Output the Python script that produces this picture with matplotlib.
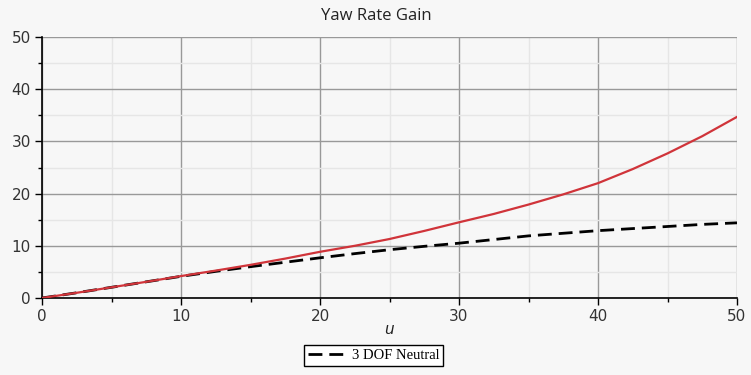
import matplotlib
matplotlib.use("Agg")
import matplotlib.pyplot as plt
from matplotlib.ticker import MultipleLocator

u = [0, 2.5, 5, 7.5, 10, 12.5, 15, 17.5, 20, 22.5, 25, 27.5, 30, 32.5, 35, 37.5, 40, 42.5, 45, 47.5, 50]
gain_red = [0, 1.0, 2.05, 3.1, 4.2, 5.25, 6.35, 7.55, 8.85, 10.0, 11.3, 12.85, 14.5, 16.1, 17.9, 19.85, 22.0, 24.7, 27.7, 31.0, 34.7]
gain_3dof = [0, 1.0, 2.05, 3.1, 4.15, 5.1, 6.0, 6.85, 7.7, 8.5, 9.25, 9.9, 10.5, 11.2, 11.9, 12.4, 12.9, 13.3, 13.7, 14.1, 14.4]
title = "Yaw Rate Gain"
xlabel = "u"
legend_label = "3 DOF Neutral"

bg = "#f7f7f7"
fig = plt.figure(figsize=(7.51, 3.75), dpi=100, facecolor=bg)
ax = fig.add_axes([42/751, 1-298/375, (737-42)/751, (298-37)/375])
ax.set_facecolor(bg)

l1, = ax.plot(u, gain_3dof, color="black", lw=2.0, dashes=(5, 2.5), label=legend_label, zorder=3)
ax.plot(u, gain_red, color="#d0343a", lw=1.6, zorder=4)

ax.set_xlim(0, 50)
ax.set_ylim(0, 50)
ax.xaxis.set_major_locator(MultipleLocator(10))
ax.xaxis.set_minor_locator(MultipleLocator(5))
ax.yaxis.set_major_locator(MultipleLocator(10))
ax.yaxis.set_minor_locator(MultipleLocator(5))
ax.grid(which="major", color="#999999", lw=1.0, zorder=0)
ax.grid(which="minor", color="#e6e6e6", lw=1.0, zorder=0)
ax.set_axisbelow(True)

for s in ["top", "right"]:
    ax.spines[s].set_visible(False)
for s in ["left", "bottom"]:
    ax.spines[s].set_color("black")
    ax.spines[s].set_linewidth(1.2)

ax.tick_params(which="major", direction="out", length=5, width=1, color="black",
               labelsize=11, labelcolor="#333333", pad=3)
ax.tick_params(which="minor", direction="out", length=3, width=1, color="black")
for lab in ax.get_xticklabels() + ax.get_yticklabels():
    lab.set_family("DejaVu Sans")

fig.text(376.5 / 751, 1 - 16/375, title, ha="center", va="center",
         fontsize=12, family="Open Sans", color="#222222")
fig.text(389 / 751, 1 - 330/375, xlabel, ha="center", va="center",
         fontsize=11, style="italic", family="DejaVu Sans", color="#222222")

leg = fig.legend(handles=[l1], loc="center", bbox_to_anchor=(373.5/751, 1 - 355.5/375),
                 frameon=True, fancybox=False, edgecolor="black", facecolor="white",
                 framealpha=1, prop={"family": "Liberation Serif", "size": 10.5},
                 handlelength=2.6, handletextpad=0.4, borderpad=0.25, borderaxespad=0)
leg.get_frame().set_linewidth(1.0)

fig.savefig("out.png", dpi=100, facecolor=bg)
